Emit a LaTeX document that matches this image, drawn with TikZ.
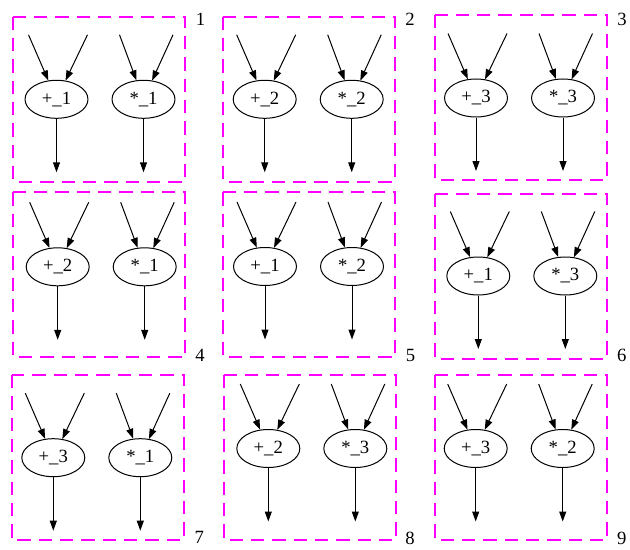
\documentclass[tikz,border=0pt]{standalone}
\usepackage{fontspec}
\setmainfont{Liberation Serif}
\usetikzlibrary{arrows.meta,shapes.geometric}
\definecolor{clustermag}{RGB}{255,0,255}

\begin{document}
\begin{tikzpicture}[x=0.75pt,y=-0.75pt,>={Triangle[length=7.5pt,width=5.25pt]},line join=round,font=\fontsize{14}{16}\selectfont,
  op/.style={draw,ellipse,line width=0.75pt,minimum width=47.25pt,minimum height=28.5pt,inner sep=0pt},
  cluster/.style={draw=clustermag,line width=1.6pt,dash pattern=on 10pt off 6pt,line join=miter},
  flow/.style={->,line width=0.75pt}]
\useasboundingbox (0,0) rectangle (630,549);
% --- clusters: box, number, adder and multiplier with their edges
\foreach \i/\bx/\by/\lx/\ly/\ka/\kb/\cx/\cy in {1/13.3/16.7/200.5/19/1/1/56.5/99.3,2/223.3/16.7/410/19/2/2/264.7/99.3,3/435/15/622/19/3/3/476/98,4/13.3/192.3/200/355.5/2/1/57.7/266.8,5/223.3/192.3/410.5/355.5/1/2/265/266.5,6/435/194/621.7/355.5/1/3/478.3/276,7/11.7/375/199.2/537/3/1/53.3/457.7,8/224/375/410/538/2/3/268.3/448.5,9/435/375/621.7/538/3/2/475.7/448.5} {
  \draw[cluster] (\bx,\by) rectangle ++(172,165);
  \node (lbl\i) at (\lx,\ly) {\i};
  \node[op] (add\i) at (\cx,\cy) {+\_\ka};
  \node[op] (mul\i) at (\cx+87,\cy) {*\_\kb};
  % free ends
  \coordinate (add\i-a) at (\cx-28,\cy-64.5); \coordinate (add\i-b) at (\cx+31,\cy-64.5); \coordinate (add\i-out) at (\cx,\cy+73);
  \coordinate (mul\i-a) at (\cx+63,\cy-64.5); \coordinate (mul\i-b) at (\cx+116.5,\cy-64.5); \coordinate (mul\i-out) at (\cx+87,\cy+73);
  \draw[flow] (add\i-a) -- (add\i); \draw[flow] (add\i-b) -- (add\i); \draw[flow] (add\i) -- (add\i-out);
  \draw[flow] (mul\i-a) -- (mul\i); \draw[flow] (mul\i-b) -- (mul\i); \draw[flow] (mul\i) -- (mul\i-out);
}
\end{tikzpicture}
\end{document}
